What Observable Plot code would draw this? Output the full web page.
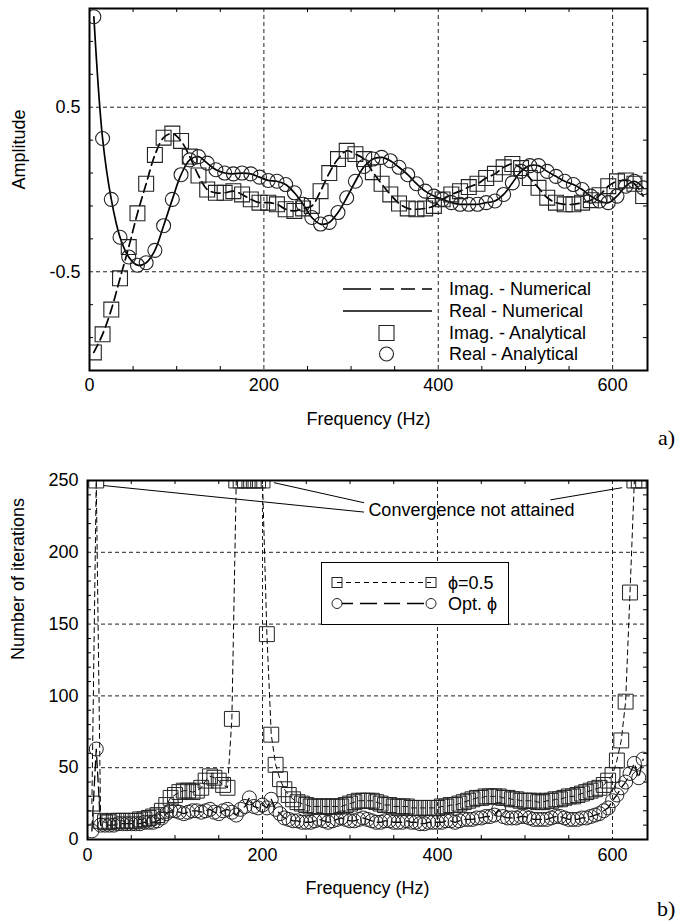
<!DOCTYPE html>
<html>
<head>
<meta charset="utf-8">
<script src="https://cdn.jsdelivr.net/npm/d3@7"></script>
<script src="https://cdn.jsdelivr.net/npm/@observablehq/plot@0.6"></script>
<style>
  html, body { margin: 0; padding: 0; background: #fff; }
  #root { position: relative; width: 679px; height: 921px; overflow: hidden;
          font-family: "Liberation Sans", Arial, Helvetica, sans-serif; color: #000; }
  .panel { position: absolute; left: 0; }
  #overlay { position: absolute; left: 0; top: 0; pointer-events: none; }
</style>
</head>
<body>
<div id="root">
  <div id="panelA" class="panel" style="top:0"></div>
  <div id="panelB" class="panel" style="top:440px"></div>
  <svg id="overlay" width="679" height="921"></svg>
</div>
<script>
// ---------------- Panel a data ----------------
const freqA = [5,15,25,35,45,55,65,75,85,95,105,115,125,135,145,155,165,175,185,195,
  205,215,225,235,245,255,265,275,285,295,305,315,325,335,345,355,365,375,385,395,
  405,415,425,435,445,455,465,475,485,495,505,515,525,535,545,555,565,575,585,595,
  605,615,625,635];
const realA = [1.05,0.31,-0.06,-0.29,-0.41,-0.46,-0.445,-0.37,-0.22,-0.06,
  0.09,0.18,0.2,0.16,0.12,0.10,0.095,0.10,0.095,0.075,
  0.055,0.05,0.03,-0.02,-0.09,-0.17,-0.21,-0.20,-0.14,-0.05,
  0.05,0.14,0.185,0.195,0.175,0.135,0.09,0.035,-0.01,-0.04,
  -0.06,-0.08,-0.09,-0.09,-0.09,-0.08,-0.07,-0.03,0.04,0.11,
  0.145,0.145,0.11,0.08,0.05,0.03,0.0,-0.04,-0.07,-0.08,
  -0.04,0.02,0.05,0.01];
const imagA = [-0.99,-0.88,-0.73,-0.54,-0.35,-0.145,0.035,0.21,0.315,0.34,
  0.295,0.20,0.085,0.0,-0.02,-0.02,-0.01,-0.03,-0.06,-0.08,
  -0.08,-0.09,-0.12,-0.13,-0.115,-0.10,-0.01,0.10,0.185,0.235,
  0.215,0.185,0.105,0.035,-0.03,-0.085,-0.115,-0.12,-0.115,-0.10,
  -0.06,-0.03,-0.01,0.015,0.035,0.07,0.095,0.135,0.155,0.13,
  0.07,0.01,-0.05,-0.08,-0.09,-0.09,-0.08,-0.065,-0.035,0.02,
  0.05,0.055,0.035,-0.04];
const xTicksA = [0,200,400,600];
const xMinorA = [50,100,150,250,300,350,450,500,550];
const yTicksA = [-0.5,0.5];
const yMinorA = [-0.9,-0.7,-0.3,-0.1,0.1,0.3,0.7,0.9];
const legendA = ["Imag. - Numerical","Real - Numerical","Imag. - Analytical","Real - Analytical"];

// ---------------- Panel b data ----------------
const freqB = [5,10,15,20,25,30,35,40,45,50,55,60,65,70,75,80,85,90,95,100,
  105,110,115,120,125,130,135,140,145,150,155,160,165,170,175,180,185,190,195,200,
  205,210,215,220,225,230,235,240,245,250,255,260,265,270,275,280,285,290,295,300,
  305,310,315,320,325,330,335,340,345,350,355,360,365,370,375,380,385,390,395,400,
  405,410,415,420,425,430,435,440,445,450,455,460,465,470,475,480,485,490,495,500,
  505,510,515,520,525,530,535,540,545,550,555,560,565,570,575,580,585,590,595,600,
  605,610,615,620,625,630,635];
const phiHalfB = [25,250,13,12,12,13,13,13,13,13,
  13,14,14,15,16,17,20,24,29,31,
  33,34,34,33,34,36,41,44,43,41,
  38,36,84,250,250,250,250,250,250,250,
  143,73,52,42,35,31,28,26,25,24,
  23,23,23,23,23,23,23,23,24,25,
  26,27,27,27,27,26,25,24,24,23,
  23,23,23,22,22,22,22,22,22,22,
  23,23,24,24,25,26,27,28,29,29,
  30,30,30,30,29,29,28,28,27,27,
  27,27,26,26,27,27,28,28,29,30,
  30,31,32,33,34,35,36,38,41,45,
  55,69,96,172,250,250,250];
const optB = [6,63,10,10,10,10,11,11,11,11,
  11,11,12,12,12,13,15,18,20,20,
  19,18,19,20,20,19,20,21,19,18,
  20,21,19,17,21,23,29,23,22,24,
  22,28,21,18,15,14,13,13,12,12,
  12,13,14,13,12,13,14,15,14,13,
  13,14,15,14,13,12,12,13,13,12,
  12,12,13,12,12,11,11,12,12,12,
  12,13,13,12,13,14,14,14,15,15,
  16,16,17,21,16,15,15,15,16,16,
  15,14,14,14,14,15,16,16,15,14,
  14,14,15,15,16,17,18,20,22,27,
  31,36,40,46,53,43,56];
const xTicksB = [0,200,400,600];
const xMinorB = [50,100,150,250,300,350,450,500,550];
const yTicksB = [0,50,100,150,200,250];
const yGridB = [50,100,150,200];
const yMinorB = [10,20,30,40,60,70,80,90,110,120,130,140,160,170,180,190,210,220,230,240];
const convLabel = ["Convergence not attained"];
const convLabelAt = [{f: 321, n: 229}];
const convLeaders = [
  {f1: 18, n1: 246.5, f2: 316, n2: 228},
  {f1: 213, n1: 248.5, f2: 316, n2: 234.5},
  {f1: 611, n1: 245, f2: 529, n2: 236.5}
];
const legendB = ["\u03D5=0.5", "Opt. \u03D5"];

// ---------------- build tables ----------------
const dataA = freqA.map((f, i) => ({f, real: realA[i], imag: imagA[i]}));
const dataB = freqB.map((f, i) => ({f, half: phiHalfB[i], opt: optB[i]}));
const convText = convLabelAt.map((d, i) => ({...d, label: convLabel[i]}));

const FONT = "Liberation Sans, Arial, Helvetica, sans-serif";
const W = 679;
const gridStyle = {stroke: "#222", strokeWidth: 1, strokeDasharray: "4,3"};

// ---------------- Panel a ----------------
const mA = {top: 8, right: 32, bottom: 70, left: 89};
const HA = 440;
const ihA = HA - mA.top - mA.bottom;
const iwA = W - mA.left - mA.right;
const plotA = Plot.plot({
  width: W, height: HA,
  marginTop: mA.top, marginRight: mA.right, marginBottom: mA.bottom, marginLeft: mA.left,
  style: {fontFamily: FONT, fontSize: "18px", background: "#fff", color: "#000"},
  x: {domain: [0, 640]},
  y: {domain: [-1.1, 1.1]},
  marks: [
    Plot.ruleX(xTicksA.filter(d => d > 0), gridStyle),
    Plot.ruleY(yTicksA, gridStyle),
    Plot.tickX(xMinorA, {insetTop: ihA - 4, stroke: "#000"}),
    Plot.tickX(xMinorA, {insetBottom: ihA - 4, stroke: "#000"}),
    Plot.tickY(yMinorA, {insetRight: iwA - 4, stroke: "#000"}),
    Plot.tickY(yMinorA, {insetLeft: iwA - 4, stroke: "#000"}),
    Plot.line(dataA, {x: "f", y: "real", curve: "catmull-rom", stroke: "#000", strokeWidth: 1.7, clip: true}),
    Plot.line(dataA, {x: "f", y: "imag", curve: "catmull-rom", stroke: "#000", strokeWidth: 1.7, strokeDasharray: "9,5", clip: true}),
    Plot.dot(dataA, {x: "f", y: "imag", symbol: "square", r: 8.4, fill: "none", stroke: "#222", strokeWidth: 1.1, clip: true}),
    Plot.dot(dataA, {x: "f", y: "real", symbol: "circle", r: 7, fill: "none", stroke: "#222", strokeWidth: 1.1, clip: true}),
    Plot.frame({stroke: "#000", strokeWidth: 2}),
    Plot.axisX({ticks: xTicksA, tickSize: 0, tickPadding: 8, fontSize: 18, label: null}),
    Plot.axisY({ticks: yTicksA, tickSize: 0, tickPadding: 9, fontSize: 18, label: null, tickFormat: d => String(d)}),
    Plot.text(["Frequency (Hz)"], {text: d => d, frameAnchor: "bottom", dy: 54, fontSize: 18}),
    Plot.text(["Amplitude"], {text: d => d, frameAnchor: "left", dx: -70, rotate: -90, fontSize: 18})
  ]
});
document.getElementById("panelA").appendChild(plotA);

// ---------------- Panel b ----------------
const mB = {top: 40, right: 32, bottom: 82, left: 87};
const HB = 481;
const ihB = HB - mB.top - mB.bottom;
const iwB = W - mB.left - mB.right;
const plotB = Plot.plot({
  width: W, height: HB,
  marginTop: mB.top, marginRight: mB.right, marginBottom: mB.bottom, marginLeft: mB.left,
  style: {fontFamily: FONT, fontSize: "18px", background: "#fff", color: "#000"},
  x: {domain: [0, 640]},
  y: {domain: [0, 250]},
  marks: [
    Plot.ruleX(xTicksB.filter(d => d > 0), gridStyle),
    Plot.ruleY(yGridB, gridStyle),
    Plot.tickX(xMinorB, {insetTop: ihB - 4, stroke: "#000"}),
    Plot.tickX(xMinorB, {insetBottom: ihB - 4, stroke: "#000"}),
    Plot.tickY(yMinorB, {insetRight: iwB - 4, stroke: "#000"}),
    Plot.tickY(yMinorB, {insetLeft: iwB - 4, stroke: "#000"}),
    Plot.link(convLeaders, {x1: "f1", y1: "n1", x2: "f2", y2: "n2", stroke: "#000", strokeWidth: 1}),
    Plot.text(convText, {x: "f", y: "n", text: "label", textAnchor: "start", fontSize: 18}),
    Plot.line(dataB, {x: "f", y: "half", stroke: "#000", strokeWidth: 1, strokeDasharray: "5,4", clip: true}),
    Plot.line(dataB, {x: "f", y: "opt", stroke: "#000", strokeWidth: 1.3, strokeDasharray: "10,5", clip: true}),
    Plot.dot(dataB, {x: "f", y: "half", symbol: "square", r: 8.4, fill: "none", stroke: "#222", strokeWidth: 1, clip: true}),
    Plot.dot(dataB, {x: "f", y: "opt", symbol: "circle", r: 7, fill: "none", stroke: "#222", strokeWidth: 1, clip: true}),
    Plot.frame({stroke: "#000", strokeWidth: 2}),
    Plot.axisX({ticks: xTicksB, tickSize: 0, tickPadding: 9, fontSize: 18, label: null}),
    Plot.axisY({ticks: yTicksB, tickSize: 0, tickPadding: 9, fontSize: 18, label: null}),
    Plot.text(["Frequency (Hz)"], {text: d => d, frameAnchor: "bottom", dy: 54, fontSize: 18}),
    Plot.text(["Number of iterations"], {text: d => d, frameAnchor: "left", dx: -69, rotate: -90, fontSize: 18})
  ]
});
document.getElementById("panelB").appendChild(plotB);

// ---------------- Legends and panel tags (overlay) ----------------
const ov = d3.select("#overlay");
// Legend a
const la = ov.append("g").attr("font-family", FONT).attr("font-size", 18);
const rowsA = [289, 311, 333, 354];
la.append("line").attr("x1", 343).attr("x2", 432).attr("y1", rowsA[0]).attr("y2", rowsA[0])
  .attr("stroke", "#000").attr("stroke-width", 1.7).attr("stroke-dasharray", "28,9,14,7,14,7,14");
la.append("line").attr("x1", 343).attr("x2", 432).attr("y1", rowsA[1]).attr("y2", rowsA[1])
  .attr("stroke", "#000").attr("stroke-width", 1.7);
la.append("path").attr("d", d3.symbol(d3.symbolSquare, 225)()).attr("transform", `translate(386.5,${rowsA[2]})`)
  .attr("fill", "none").attr("stroke", "#222").attr("stroke-width", 1.1);
la.append("circle").attr("cx", 386.5).attr("cy", rowsA[3]).attr("r", 7)
  .attr("fill", "none").attr("stroke", "#222").attr("stroke-width", 1.1);
legendA.forEach((t, i) => {
  la.append("text").attr("x", 449).attr("y", rowsA[i]).attr("dy", "0.35em").text(t);
});

// Legend b (boxed)
const lb = ov.append("g").attr("font-family", FONT).attr("font-size", 18);
lb.append("rect").attr("x", 321.5).attr("y", 562.5).attr("width", 187).attr("height", 62)
  .attr("fill", "#fff").attr("stroke", "#000").attr("stroke-width", 1);
const rowsB = [582.5, 603.5];
lb.append("line").attr("x1", 337).attr("x2", 431).attr("y1", rowsB[0]).attr("y2", rowsB[0])
  .attr("stroke", "#000").attr("stroke-width", 1).attr("stroke-dasharray", "5,4");
[337, 431].forEach(x => lb.append("rect").attr("x", x - 5).attr("y", rowsB[0] - 5).attr("width", 10).attr("height", 10)
  .attr("fill", "none").attr("stroke", "#222").attr("stroke-width", 1));
lb.append("line").attr("x1", 337).attr("x2", 431).attr("y1", rowsB[1]).attr("y2", rowsB[1])
  .attr("stroke", "#000").attr("stroke-width", 1.3).attr("stroke-dasharray", "16,7,17,7");
[337, 431].forEach(x => lb.append("circle").attr("cx", x).attr("cy", rowsB[1]).attr("r", 5)
  .attr("fill", "#fff").attr("stroke", "#222").attr("stroke-width", 1));
legendB.forEach((t, i) => {
  lb.append("text").attr("x", 448).attr("y", rowsB[i]).attr("dy", "0.35em").text(t);
});

// Panel tags
ov.append("text").attr("x", 658).attr("y", 445).attr("font-family", "Liberation Serif, Times New Roman, serif")
  .attr("font-size", 22).text("a)");
ov.append("text").attr("x", 657).attr("y", 916).attr("font-family", "Liberation Serif, Times New Roman, serif")
  .attr("font-size", 22).text("b)");
</script>
</body>
</html>
